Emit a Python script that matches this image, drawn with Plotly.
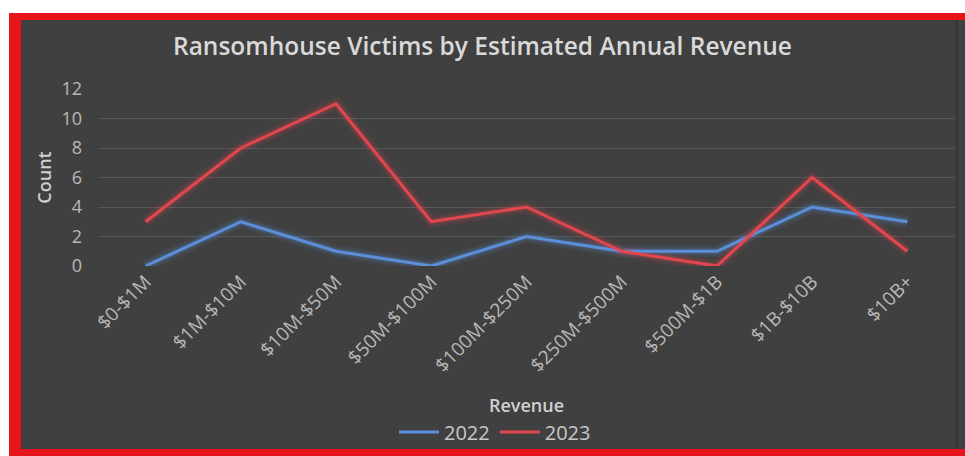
import plotly.graph_objects as go

categories = ["$0-$1M", "$1M-$10M", "$10M-$50M", "$50M-$100M", "$100M-$250M",
              "$250M-$500M", "$500M-$1B", "$1B-$10B", "$10B+"]
v2022 = [0, 3, 1, 0, 2, 1, 1, 4, 3]
v2023 = [3, 8, 11, 3, 4, 1, 0, 6, 1]
series = [("2022", v2022, "#5b8fd9", "91,143,217"), ("2023", v2023, "#e2474f", "226,71,79")]

W, H = 965, 456
L, R, T, B = 98, 10, 89, 190
PW, PH = W - L - R, H - T - B

def px(x):
    return (x - L) / PW

def py(y):
    return (H - B - y) / PH

FONT = "Open Sans"

fig = go.Figure()
for name, vals, col, rgb in series:
    for w, a in [(12, 0.10), (7, 0.18)]:
        fig.add_trace(go.Scatter(x=categories, y=vals, mode="lines", showlegend=False,
                                 hoverinfo="skip", line=dict(color=f"rgba({rgb},{a})", width=w),
                                 cliponaxis=False))
for name, vals, col, rgb in series:
    fig.add_trace(go.Scatter(x=categories, y=vals, mode="lines", name=name,
                             line=dict(color=col, width=3), cliponaxis=False))

shapes = [
    dict(type="rect", xref="paper", yref="paper", x0=px(0), x1=px(W), y0=py(0), y1=py(13),
         fillcolor="white", line_width=0, layer="below"),
    dict(type="rect", xref="paper", yref="paper", x0=px(0), x1=px(9), y0=py(0), y1=py(H),
         fillcolor="white", line_width=0, layer="below"),
    dict(type="rect", xref="paper", yref="paper", x0=px(9), x1=px(21), y0=py(13), y1=py(H),
         fillcolor="#e8141c", line_width=0, layer="below"),
    dict(type="rect", xref="paper", yref="paper", x0=px(9), x1=px(W), y0=py(13), y1=py(20),
         fillcolor="#e8141c", line_width=0, layer="below"),
    dict(type="rect", xref="paper", yref="paper", x0=px(9), x1=px(W), y0=py(449), y1=py(H),
         fillcolor="#e8141c", line_width=0, layer="below"),
    dict(type="line", xref="paper", yref="paper", x0=px(957), x1=px(957), y0=py(20), y1=py(449),
         line=dict(color="#363636", width=2), layer="below"),
]

fig.update_layout(
    width=W, height=H,
    margin=dict(l=L, r=R, t=T, b=B, autoexpand=False),
    paper_bgcolor="#404040", plot_bgcolor="rgba(0,0,0,0)",
    shapes=shapes,
    title=dict(text="Ransomhouse Victims by Estimated Annual Revenue", x=0.5, xanchor="center",
               y=1 - 46 / H, yanchor="middle",
               font=dict(family=FONT, size=24.5, color="#d9d9d9", weight=600)),
    xaxis=dict(range=[-0.5, 8.5], showgrid=False, zeroline=False, showline=False,
               tickangle=-45, tickfont=dict(family=FONT, size=19, color="#b8b8b8"),
               title=dict(text="Revenue", standoff=22,
                          font=dict(family=FONT, size=18, color="#d0d0d0", weight=600)),
               automargin=False),
    yaxis=dict(range=[0, 12], dtick=2, showgrid=True, gridcolor="#575757", gridwidth=1,
               zeroline=False, showline=False, ticklabelstandoff=15,
               tickfont=dict(family=FONT, size=18, color="#b8b8b8"),
               title=dict(text="Count", standoff=5,
                          font=dict(family=FONT, size=18, color="#d0d0d0", weight=600)),
               automargin=False),
    legend=dict(orientation="h", x=px(495), xanchor="center", y=py(432), yanchor="middle",
                bgcolor="rgba(0,0,0,0)", font=dict(family=FONT, size=20, color="#c8c8c8"),
                itemwidth=40),
    showlegend=True,
)

fig.write_html("out.html")
